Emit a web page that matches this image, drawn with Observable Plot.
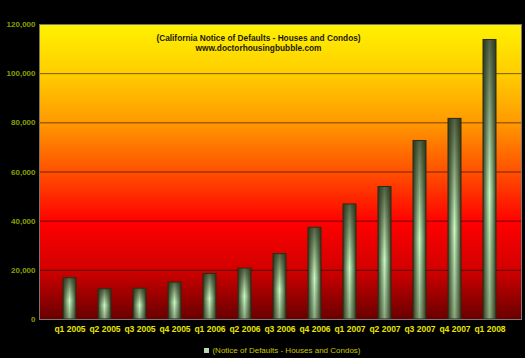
<!DOCTYPE html>
<html>
<head>
<meta charset="utf-8">
<script src="https://cdn.jsdelivr.net/npm/d3@7"></script>
<script src="https://cdn.jsdelivr.net/npm/@observablehq/plot@0.6"></script>
<style>
  html, body { margin: 0; padding: 0; background: #000; }
  #wrap { width: 525px; height: 358px; background: #000; font-family: "Liberation Sans", Arial, sans-serif; }
  #legend { height: 20px; text-align: center; color: #c8c800; font-size: 8px; line-height: 26px; padding-left: 40px; }
  #legend span.sw { display: inline-block; width: 5px; height: 5px; background: #b8d8b0; margin-right: 3px; vertical-align: 0px; }
</style>
</head>
<body>
<div id="wrap"><div id="chart"></div><div id="legend"><span class="sw"></span>(Notice of Defaults - Houses and Condos)</div></div>
<script>
const quarters = ["q1 2005","q2 2005","q3 2005","q4 2005","q1 2006","q2 2006","q3 2006","q4 2006","q1 2007","q2 2007","q3 2007","q4 2007","q1 2008"];
const defaults = [16800, 12300, 12500, 15000, 18500, 20700, 26600, 37300, 46800, 53900, 72600, 81600, 113700];
const yTicks = [0, 20000, 40000, 60000, 80000, 100000, 120000];
const titleLines = ["(California Notice of Defaults - Houses and Condos)", "www.doctorhousingbubble.com"];

const data = quarters.map((q, i) => ({q, v: defaults[i]}));

const chart = Plot.plot({
  width: 525,
  height: 338,
  marginLeft: 39,
  marginRight: 4,
  marginTop: 24,
  marginBottom: 19,
  style: {background: "#000", fontFamily: "Liberation Sans, Arial, sans-serif", fontSize: "8px", fontWeight: "bold"},
  x: {domain: quarters, padding: 0.62, label: null},
  y: {domain: [0, 120000], ticks: yTicks, label: null},
  marks: [
    Plot.frame({fill: "url(#bgGrad)", stroke: null}),
    Plot.gridY(yTicks.filter(t => t > 0 && t < 120000), {stroke: "#000", strokeOpacity: 0.55, strokeWidth: 1}),
    Plot.barY(data, {x: "q", y: "v", fill: "url(#barGrad)", stroke: "#2a2a12", strokeWidth: 1}),
    Plot.barY(data, {x: "q", y: "v", fill: "url(#barShade)"}),
    Plot.frame({stroke: "#777", strokeWidth: 1}),
    Plot.axisY({ticks: yTicks, tickFormat: d3.format(","), tickSize: 0, tickPadding: 4, fill: "#8aa000", fontSize: 8, fontWeight: "bold"}),
    Plot.axisX({tickSize: 0, tickPadding: 6, fill: "#e6e600", fontSize: 8.5, fontWeight: "bold"}),
    Plot.text([titleLines.join("\n")], {frameAnchor: "top", dy: 9, dx: -22, lineHeight: 1.2, fill: "#1a1a00", fontSize: 8.3, fontWeight: "bold", lineAnchor: "top"})
  ]
});

const svg = d3.select(chart);
const defs = svg.insert("defs", ":first-child");
const bg = defs.append("linearGradient").attr("id", "bgGrad").attr("x1", 0).attr("y1", 0).attr("x2", 0).attr("y2", 1);
[[0, "#fff200"], [0.17, "#ffcc00"], [0.33, "#ff9a00"], [0.5, "#ff5000"], [0.67, "#ff0000"], [0.83, "#d20000"], [1, "#680000"]]
  .forEach(([o, c]) => bg.append("stop").attr("offset", o).attr("stop-color", c));
const bar = defs.append("linearGradient").attr("id", "barGrad").attr("x1", 0).attr("y1", 0).attr("x2", 1).attr("y2", 0);
[[0, "#3a4228"], [0.28, "#88ac80"], [0.5, "#c8f6c2"], [0.72, "#88ac80"], [1, "#3a4228"]]
  .forEach(([o, c]) => bar.append("stop").attr("offset", o).attr("stop-color", c));
const sh = defs.append("linearGradient").attr("id", "barShade").attr("x1", 0).attr("y1", 0).attr("x2", 0).attr("y2", 1);
[[0, "#2a3018", 0.75], [0.55, "#2a3018", 0], [1, "#2a3018", 0.4]]
  .forEach(([o, c, a]) => sh.append("stop").attr("offset", o).attr("stop-color", c).attr("stop-opacity", a));

document.getElementById("chart").appendChild(chart);
</script>
</body>
</html>
